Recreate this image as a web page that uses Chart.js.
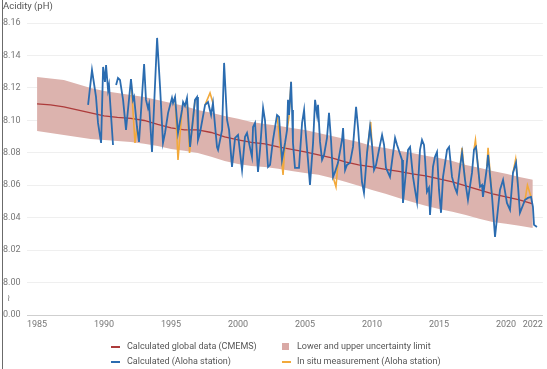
<!DOCTYPE html>
<html>
<head>
<meta charset="utf-8">
<script src="https://cdn.jsdelivr.net/npm/chart.js@4.4.1/dist/chart.umd.min.js"></script>
<style>
  html, body { margin: 0; padding: 0; background: #fff; }
  #wrap { position: relative; width: 547px; height: 369px; overflow: hidden; background: #fff; font-family: Roboto, "Liberation Sans", sans-serif; }
  #c { position: absolute; left: 0; top: 0; }
  #vline { position: absolute; left: 2px; top: 0; width: 1px; height: 369px; background: #6b6b6b; }
  #ytitle { position: absolute; left: 3px; top: 0px; font-size: 9.5px; line-height: 12px; color: #555; white-space: nowrap; }
  .lg { position: absolute; font-size: 9px; line-height: 11px; color: #555; white-space: nowrap; }
  .dash { position: absolute; width: 9px; height: 2px; }
  .sq { position: absolute; width: 7px; height: 7px; }
</style>
</head>
<body>
<div id="wrap">
  <canvas id="c" width="547" height="369"></canvas>
  <div id="vline"></div>
  <div id="ytitle">Acidity (pH)</div>
  <div class="dash" style="left:111px; top:346px; background:#ad3b3b;"></div>
  <div class="lg" style="left:127px; top:341px;">Calculated global data (CMEMS)</div>
  <div class="sq" style="left:282px; top:343px; background:#d9a9a5;"></div>
  <div class="lg" style="left:297px; top:341px;">Lower and upper uncertainty limit</div>
  <div class="dash" style="left:111px; top:361px; background:#2b6cb0;"></div>
  <div class="lg" style="left:127px; top:356px;">Calculated (Aloha station)</div>
  <div class="dash" style="left:282px; top:361px; background:#f2a93b;"></div>
  <div class="lg" style="left:297px; top:356px;">In situ measurement (Aloha station)</div>
</div>
<script>
// ---- data ----
const cmemsYears = [1985,1986,1987,1988,1989,1990,1991,1992,1993,1994,1995,1996,1997,1998,1999,2000,2001,2002,2003,2004,2005,2006,2007,2008,2009,2010,2011,2012,2013,2014,2015,2016,2017,2018,2019,2020,2021,2022];
const cmemsPH = [8.1101,8.1095,8.1083,8.1064,8.1046,8.1027,8.1018,8.1012,8.0999,8.0975,8.0953,8.0941,8.0941,8.0925,8.0898,8.0879,8.0864,8.0855,8.0836,8.0821,8.0805,8.0787,8.0768,8.0744,8.0725,8.0713,8.0698,8.0685,8.0670,8.0658,8.0639,8.0621,8.0596,8.0571,8.0547,8.0528,8.0510,8.0485];
const upperPH = [8.1267,8.1258,8.1249,8.1224,8.1200,8.1181,8.1169,8.1156,8.1144,8.1126,8.1107,8.1089,8.1064,8.1046,8.1027,8.1009,8.0990,8.0978,8.0966,8.0953,8.0941,8.0922,8.0904,8.0885,8.0867,8.0842,8.0830,8.0812,8.0799,8.0781,8.0768,8.0750,8.0725,8.0707,8.0688,8.0670,8.0651,8.0633];
const lowerPH = [8.0935,8.0922,8.0910,8.0898,8.0885,8.0879,8.0873,8.0867,8.0855,8.0842,8.0824,8.0812,8.0799,8.0775,8.0750,8.0731,8.0719,8.0713,8.0701,8.0688,8.0676,8.0664,8.0645,8.0621,8.0596,8.0571,8.0547,8.0522,8.0497,8.0473,8.0454,8.0436,8.0417,8.0393,8.0374,8.0362,8.0350,8.0337];

const alohaYears = [1988.81,1989.10,1989.40,1989.55,1989.78,1989.93,1990.07,1990.15,1990.30,1990.37,1990.67,1990.78,
1990.90,1991.04,1991.19,1991.42,1991.64,1992.01,1992.16,1992.24,1992.46,1992.61,1992.99,1993.13,1993.28,1993.36,1993.58,1993.96,
1994.18,1994.40,1994.55,1994.78,1995.07,1995.15,1995.30,1995.52,1995.82,1995.90,1996.04,1996.19,1996.42,1996.79,1996.94,1997.01,
1997.16,1997.54,1997.76,1997.99,1998.13,1998.43,1998.51,1998.81,1998.96,1999.18,1999.33,1999.55,1999.78,2000.00,2000.30,2000.52,
2000.67,2000.82,2001.04,2001.12,2001.27,2001.49,2001.64,2001.87,2002.01,2002.24,2002.39,2002.61,2002.91,2003.06,2003.28,2003.51,
2003.66,2003.73,2003.81,2003.96,2004.03,2004.10,2004.25,2004.55,2004.78,2004.93,2005.00,2005.22,2005.37,2005.60,2005.75,2005.90,
2005.97,2006.12,2006.27,2006.42,2006.64,2006.79,2006.94,2007.09,2007.24,2007.46,2007.76,2007.84,2007.99,2008.13,2008.36,2008.58,
2008.81,2008.96,2009.25,2009.40,2009.63,2009.85,2010.00,2010.15,2010.30,2010.52,2010.75,2010.90,2011.04,2011.34,2011.72,2011.87,
2012.24,2012.31,2012.69,2012.84,2013.06,2013.21,2013.36,2013.58,2013.73,2013.88,2013.96,2014.10,2014.25,2014.33,2014.55,2014.70,
2014.85,2015.00,2015.15,2015.30,2015.60,2015.75,2015.97,2016.19,2016.34,2016.57,2016.72,2016.94,2017.16,2017.46,2017.61,2017.76,
2018.06,2018.21,2018.28,2018.58,2018.66,2018.96,2019.18,2019.55,2019.78,2020.07,2020.30,2020.52,2020.75,2020.90,2021.04,2021.42,
2021.64,2021.87,2022.01,2022.09,2022.31];
const alohaPH = [8.1095,8.1310,8.1144,8.0984,8.0861,8.1329,8.1237,8.1341,8.1187,8.1218,8.0848,null,
8.1218,8.1261,8.1249,8.1126,8.0941,8.1255,8.1126,8.1144,8.0959,8.0867,8.1347,8.1126,8.1076,8.1101,8.0805,8.1508,
8.1206,8.0861,8.0922,8.1046,8.1138,8.1107,8.1144,8.0922,8.1064,8.1113,8.1089,8.1138,8.0836,8.1126,8.1144,8.0879,
8.0922,8.1095,8.1113,8.1033,8.1107,8.0836,8.0818,8.0941,8.1354,8.1002,8.0941,8.0713,8.0892,8.0910,8.0694,8.0898,
8.0922,8.0861,8.0775,8.0959,8.0984,8.0682,8.0818,8.1076,8.1002,8.0713,8.0725,8.0879,8.1033,8.1021,8.0756,8.0861,
8.0941,8.1126,8.1033,8.1237,8.1064,8.0861,8.0707,8.0707,8.0984,8.1064,8.0972,8.0756,8.0602,8.0861,8.1126,8.1033,
8.1095,8.0867,8.0756,8.0787,8.0892,8.1046,8.0879,8.0651,8.0682,8.0738,8.0879,8.0953,8.0694,8.0725,8.0738,8.0836,
8.1083,8.0953,8.0621,8.0553,8.0799,8.0959,8.0848,8.0694,8.0725,8.0818,8.0910,8.0848,8.0707,8.0651,8.0892,8.0848,
8.0756,8.0491,8.0818,8.0836,8.0651,8.0571,8.0497,8.0818,8.0879,8.0848,8.0756,8.0559,8.0584,8.0417,8.0713,8.0775,
8.0805,8.0571,8.0430,8.0651,8.0818,8.0836,8.0651,8.0584,8.0553,8.0713,8.0799,8.0633,8.0510,8.0676,8.0818,8.0836,
8.0590,8.0602,8.0528,8.0713,8.0787,8.0528,8.0282,8.0571,8.0633,8.0491,8.0448,8.0676,8.0738,8.0590,8.0430,8.0510,
8.0522,8.0528,8.0467,8.0356,8.0343];

const insituYears = [1992.01,1992.31,1992.46,1992.5, 1995.30,1995.52,1995.82,1995.9, 1996.19,1996.38,1996.79,1996.8,
1997.54,1997.91,1998.13,1998.2, 2002.91,2003.36,2003.51,2003.6, 2003.66,2003.80,2003.96,2004.0, 2007.09,2007.31,2007.46,2007.5,
2009.63,2009.90,2010.00,2010.1, 2016.57,2016.72,2016.94,2017.0, 2017.61,2017.72,2018.06,2018.1, 2018.58,2018.66,2018.96,2019.0,
2020.52,2020.72,2020.90,2021.0, 2021.42,2021.60,2021.87];
const insituPH = [8.1255,8.0861,8.0959,null, 8.1144,8.0756,8.1064,null, 8.1138,8.0799,8.1126,null,
8.1095,8.1169,8.1107,null, 8.1033,8.0664,8.0861,null, 8.0941,8.1020,8.1237,null, 8.0651,8.0590,8.0738,null,
8.0799,8.0990,8.0848,null, 8.0713,8.0830,8.0633,null, 8.0818,8.0879,8.0590,null, 8.0713,8.0830,8.0528,null,
8.0676,8.0760,8.0590,null, 8.0510,8.0600,8.0528];

const yTickValues = [7.98,7.99,8.00,8.02,8.04,8.06,8.08,8.10,8.12,8.14,8.16];
const xTickValues = [1985,1990,1995,2000,2005,2010,2015,2020,2022];

// ---- build ----
const pts = (xs, ys) => xs.map((x, i) => ({ x: x, y: ys[i] }));

new Chart(document.getElementById('c'), {
  type: 'line',
  data: {
    datasets: [
      { label: 'Calculated (Aloha station)', data: pts(alohaYears, alohaPH), borderColor: '#2b6cb0', borderWidth: 1.8, pointRadius: 0, fill: false, spanGaps: false },
      { label: 'In situ measurement (Aloha station)', data: pts(insituYears, insituPH), borderColor: '#f2a93b', borderWidth: 1.6, pointRadius: 0, fill: false, spanGaps: false },
      { label: 'Calculated global data (CMEMS)', data: pts(cmemsYears, cmemsPH), borderColor: '#ad3b3b', borderWidth: 1.3, pointRadius: 0, fill: false },
      { label: 'Lower and upper uncertainty limit', data: pts(cmemsYears, upperPH), borderWidth: 0, borderColor: 'rgba(0,0,0,0)', pointRadius: 0, fill: '+1', backgroundColor: '#dcb3ae' },
      { label: 'lower', data: pts(cmemsYears, lowerPH), borderWidth: 0, borderColor: 'rgba(0,0,0,0)', pointRadius: 0, fill: false }
    ]
  },
  options: {
    responsive: false,
    animation: false,
    devicePixelRatio: 1,
    layout: { padding: { top: 23, right: 4, bottom: 0, left: 3 } },
    plugins: { legend: { display: false }, tooltip: { enabled: false }, filler: { drawTime: 'beforeDatasetsDraw' } },
    scales: {
      x: {
        type: 'linear',
        min: 1984.25,
        max: 2022.75,
        afterBuildTicks: (s) => { s.ticks = xTickValues.map(v => ({ value: v })); },
        afterFit: (s) => { s.height = 54; },
        grid: { display: false, drawTicks: false },
        border: { display: true, color: '#cfcfcf', width: 1 },
        ticks: { autoSkip: false, maxRotation: 0, padding: 4, color: '#777', font: { family: 'Roboto', size: 9 }, callback: (v) => String(v) }
      },
      y: {
        type: 'linear',
        min: 7.98,
        max: 8.16,
        afterBuildTicks: (s) => { s.ticks = yTickValues.map(v => ({ value: v })); },
        afterFit: (s) => { s.width = 24; },
        grid: { drawTicks: false, color: (ctx) => (ctx.tick && Math.abs(ctx.tick.value - 7.99) < 1e-6) ? 'rgba(0,0,0,0)' : '#efefef' },
        border: { display: false },
        ticks: {
          autoSkip: false, crossAlign: 'far', padding: 0, color: '#777', font: { family: 'Roboto', size: 9 },
          callback: (v) => {
            if (v < 7.985) return '0.00';
            if (Math.abs(v - 7.99) < 1e-6) return '  \u2240';
            return v.toFixed(2);
          }
        }
      }
    }
  }
});
</script>
</body>
</html>
